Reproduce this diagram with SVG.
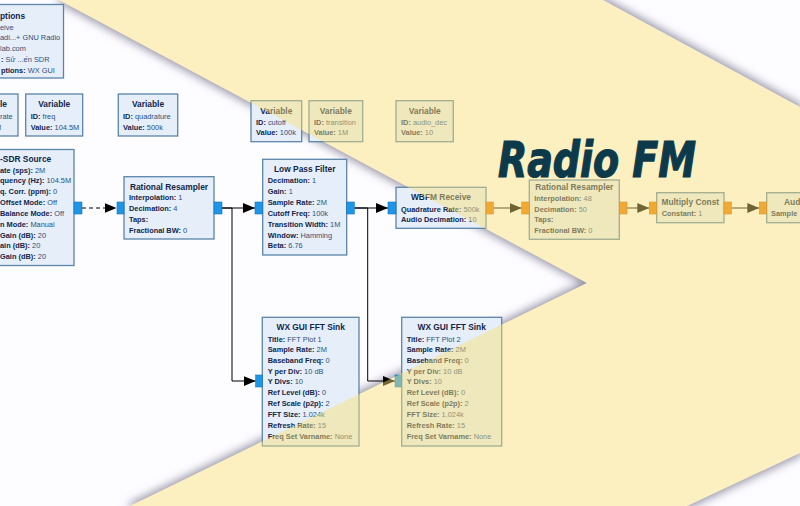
<svg xmlns="http://www.w3.org/2000/svg" width="800" height="506" viewBox="0 0 800 506">
<style>
.blk{fill:#e5eef9;stroke:#5b85a9;stroke-width:1.3}
.t{font-family:"Liberation Sans",Arial,sans-serif;font-weight:bold;font-size:8.4px;fill:#13264a;text-anchor:middle}
.l{font-family:"Liberation Sans",Arial,sans-serif;font-weight:bold;font-size:7.4px;fill:#13264a}
.v{font-weight:normal;fill:#2f517a}
.pb{fill:#1e96e8;stroke:#1873b8;stroke-width:0.6}
.po{fill:#e87c00;stroke:#b86000;stroke-width:0.6}
.c{fill:none;stroke:#000;stroke-width:1}
.d{stroke-dasharray:4 3}
</style>
<defs>
<marker id="ah" markerUnits="userSpaceOnUse" markerWidth="13" markerHeight="11" refX="12" refY="5" orient="auto"><path d="M0,0 L12,5 L0,10 z" fill="#000"/></marker>
<filter id="sh" x="-0.1" y="-0.1" width="1.2" height="1.2" color-interpolation-filters="sRGB">
<feMorphology in="SourceAlpha" operator="dilate" radius="2" result="d"/>
<feGaussianBlur in="d" stdDeviation="4" result="b"/>
<feFlood flood-color="#8e8ca0" flood-opacity="0.9" result="f"/>
<feComposite in="f" in2="b" operator="in" result="s"/>
<feComposite in="s" in2="SourceAlpha" operator="out"/>
</filter>
</defs>
<rect x="0" y="0" width="800" height="506" fill="#fdfcff"/>
<polygon points="59,0 603,0 800,107 800,453 687,506 130,506 587,283" fill="#000" filter="url(#sh)"/>

<g id="connectors">
<path class="c d" d="M82,208 H116.5" marker-end="url(#ah)"/>
<path class="c" d="M222,208 H255" marker-end="url(#ah)"/>
<path class="c" d="M222,208 H232 V381 H255.7" marker-end="url(#ah)"/>
<path class="c" d="M354.3,208 H388" marker-end="url(#ah)"/>
<path class="c" d="M354.3,208 H367.7 V381 H395" marker-end="url(#ah)"/>
<path class="c" d="M493.3,208 H521.7" marker-end="url(#ah)"/>
<path class="c" d="M627,208 H649.3" marker-end="url(#ah)"/>
<path class="c" d="M731.3,208 H759.3" marker-end="url(#ah)"/>
</g>

<g id="options">
<rect class="blk" x="-10" y="4.5" width="73.5" height="73.5"/>
<text class="l" x="0" y="18.5" style="font-size:8.4px">ptions</text>
<text class="l" x="0" y="29.5"><tspan class="v">eive</tspan></text>
<text class="l" x="0" y="40"><tspan class="v">adi...+ GNU Radio</tspan></text>
<text class="l" x="0" y="51"><tspan class="v">lab.com</tspan></text>
<text class="l" x="1" y="62">:<tspan class="v"> Sử ...ến SDR</tspan></text>
<text class="l" x="1" y="72.7">ptions:<tspan class="v"> WX GUI</tspan></text>
</g>

<g id="var_samp_rate">
<rect class="blk" x="-30" y="94" width="48" height="42"/>
<text class="l" x="0" y="107.3" style="font-size:8.4px">le</text>
<text class="l" x="0" y="118.8"><tspan class="v">rate</tspan></text>
<text class="l" x="-5" y="129.6"><tspan class="v">M</tspan></text>
</g>
<g id="var_freq">
<rect class="blk" x="25.7" y="94" width="57" height="42"/>
<text class="t" x="54.2" y="107.3">Variable</text>
<text class="l" x="30.7" y="118.8">ID:<tspan class="v"> freq</tspan></text>
<text class="l" x="30.7" y="129.6">Value:<tspan class="v"> 104.5M</tspan></text>
</g>
<g id="var_quadrature">
<rect class="blk" x="118.3" y="94" width="59.4" height="42"/>
<text class="t" x="148" y="107.3">Variable</text>
<text class="l" x="123" y="118.8">ID:<tspan class="v"> quadrature</tspan></text>
<text class="l" x="123" y="129.6">Value:<tspan class="v"> 500k</tspan></text>
</g>
<g id="var_cutoff">
<rect class="blk" x="251" y="100.7" width="50.7" height="41"/>
<text class="t" x="276.3" y="113.5">Variable</text>
<text class="l" x="256" y="124.5">ID:<tspan class="v"> cutoff</tspan></text>
<text class="l" x="256" y="135">Value:<tspan class="v"> 100k</tspan></text>
</g>
<g id="var_transition">
<rect class="blk" x="309" y="100.7" width="53.7" height="41"/>
<text class="t" x="335.8" y="113.5">Variable</text>
<text class="l" x="314" y="124.5">ID:<tspan class="v"> transition</tspan></text>
<text class="l" x="314" y="135">Value:<tspan class="v"> 1M</tspan></text>
</g>
<g id="var_audio_dec">
<rect class="blk" x="396" y="100.7" width="57.3" height="41"/>
<text class="t" x="424.7" y="113.5">Variable</text>
<text class="l" x="401" y="124.5">ID:<tspan class="v"> audio_dec</tspan></text>
<text class="l" x="401" y="135">Value:<tspan class="v"> 10</tspan></text>
</g>

<g id="rtlsdr_source">
<rect class="blk" x="-10" y="149.5" width="84" height="116"/>
<text class="l" x="0" y="162" style="font-size:8.4px">-SDR Source</text>
<text class="l" x="0" y="172.7">ate (sps):<tspan class="v"> 2M</tspan></text>
<text class="l" x="0" y="183.4">quency (Hz):<tspan class="v"> 104.5M</tspan></text>
<text class="l" x="0" y="194.4">q. Corr. (ppm):<tspan class="v"> 0</tspan></text>
<text class="l" x="0" y="205">Offset Mode:<tspan class="v"> Off</tspan></text>
<text class="l" x="0" y="216">Balance Mode:<tspan class="v"> Off</tspan></text>
<text class="l" x="0" y="227">n Mode:<tspan class="v"> Manual</tspan></text>
<text class="l" x="0" y="237.7">Gain (dB):<tspan class="v"> 20</tspan></text>
<text class="l" x="0" y="248.4">ain (dB):<tspan class="v"> 20</tspan></text>
<text class="l" x="0" y="259.4">Gain (dB):<tspan class="v"> 20</tspan></text>
<rect class="pb" x="74" y="202" width="8" height="12"/>
</g>

<g id="rational_resampler_1">
<rect class="blk" x="124" y="176.7" width="90" height="62.3"/>
<text class="t" x="169" y="189.7">Rational Resampler</text>
<text class="l" x="129" y="200.4">Interpolation:<tspan class="v"> 1</tspan></text>
<text class="l" x="129" y="211">Decimation:<tspan class="v"> 4</tspan></text>
<text class="l" x="129" y="221.7">Taps:</text>
<text class="l" x="129" y="232.7">Fractional BW:<tspan class="v"> 0</tspan></text>
<rect class="pb" x="117" y="202" width="7" height="12"/>
<rect class="pb" x="214" y="202" width="8" height="12"/>
</g>

<g id="low_pass_filter">
<rect class="blk" x="262.7" y="159.3" width="84" height="95.7"/>
<text class="t" x="304.7" y="172.3">Low Pass Filter</text>
<text class="l" x="267.7" y="183.4">Decimation:<tspan class="v"> 1</tspan></text>
<text class="l" x="267.7" y="194">Gain:<tspan class="v"> 1</tspan></text>
<text class="l" x="267.7" y="205">Sample Rate:<tspan class="v"> 2M</tspan></text>
<text class="l" x="267.7" y="216">Cutoff Freq:<tspan class="v"> 100k</tspan></text>
<text class="l" x="267.7" y="227">Transition Width:<tspan class="v"> 1M</tspan></text>
<text class="l" x="267.7" y="237.7">Window:<tspan class="v"> Hamming</tspan></text>
<text class="l" x="267.7" y="248.4">Beta:<tspan class="v"> 6.76</tspan></text>
<rect class="pb" x="255" y="202" width="7.7" height="12"/>
<rect class="pb" x="346.7" y="202" width="7.6" height="12"/>
</g>

<g id="wbfm_receive">
<rect class="blk" x="396" y="187.3" width="90" height="41"/>
<text class="t" x="441" y="199.7">WBFM Receive</text>
<text class="l" x="401" y="211.7">Quadrature Rate:<tspan class="v"> 500k</tspan></text>
<text class="l" x="401" y="222">Audio Decimation:<tspan class="v"> 10</tspan></text>
<rect class="pb" x="388" y="202" width="8" height="12"/>
<rect class="po" x="486" y="202" width="7.3" height="12"/>
</g>

<g id="rational_resampler_2">
<rect class="blk" x="529.3" y="180" width="90" height="59.3"/>
<text class="t" x="574.3" y="190.3">Rational Resampler</text>
<text class="l" x="534.3" y="200.8">Interpolation:<tspan class="v"> 48</tspan></text>
<text class="l" x="534.3" y="211.7">Decimation:<tspan class="v"> 50</tspan></text>
<text class="l" x="534.3" y="222">Taps:</text>
<text class="l" x="534.3" y="232.7">Fractional BW:<tspan class="v"> 0</tspan></text>
<rect class="po" x="521.7" y="202" width="7.6" height="12"/>
<rect class="po" x="619.3" y="202" width="7.7" height="12"/>
</g>

<g id="multiply_const">
<rect class="blk" x="656.7" y="192.7" width="67.3" height="30"/>
<text class="t" x="690.3" y="205.3">Multiply Const</text>
<text class="l" x="661.7" y="216">Constant:<tspan class="v"> 1</tspan></text>
<rect class="po" x="649.3" y="202" width="7.4" height="12"/>
<rect class="po" x="724" y="202" width="7.3" height="12"/>
</g>

<g id="audio_sink">
<rect class="blk" x="766.7" y="192.7" width="50" height="30"/>
<text class="l" x="784" y="205.3" style="font-size:8.4px">Aud</text>
<text class="l" x="771" y="216">Sample</text>
<rect class="po" x="759.3" y="202" width="7.4" height="12"/>
</g>

<g id="fft_sink_1">
<rect class="blk" x="262.3" y="317.3" width="96.7" height="128.7"/>
<text class="t" x="310.7" y="329.7">WX GUI FFT Sink</text>
<text class="l" x="267.7" y="341.7">Title:<tspan class="v"> FFT Plot 1</tspan></text>
<text class="l" x="267.7" y="352">Sample Rate:<tspan class="v"> 2M</tspan></text>
<text class="l" x="267.7" y="363.4">Baseband Freq:<tspan class="v"> 0</tspan></text>
<text class="l" x="267.7" y="373.7">Y per Div:<tspan class="v"> 10 dB</tspan></text>
<text class="l" x="267.7" y="384.4">Y Divs:<tspan class="v"> 10</tspan></text>
<text class="l" x="267.7" y="395.4">Ref Level (dB):<tspan class="v"> 0</tspan></text>
<text class="l" x="267.7" y="406">Ref Scale (p2p):<tspan class="v"> 2</tspan></text>
<text class="l" x="267.7" y="416.7">FFT Size:<tspan class="v"> 1.024k</tspan></text>
<text class="l" x="267.7" y="427.7">Refresh Rate:<tspan class="v"> 15</tspan></text>
<text class="l" x="267.7" y="438.7">Freq Set Varname:<tspan class="v"> None</tspan></text>
<rect class="pb" x="255.7" y="375" width="6.6" height="12"/>
</g>

<g id="fft_sink_2">
<rect class="blk" x="401.7" y="317.3" width="100" height="128.7"/>
<text class="t" x="451.7" y="329.7">WX GUI FFT Sink</text>
<text class="l" x="406.7" y="341.7">Title:<tspan class="v"> FFT Plot 2</tspan></text>
<text class="l" x="406.7" y="352">Sample Rate:<tspan class="v"> 2M</tspan></text>
<text class="l" x="406.7" y="363.4">Baseband Freq:<tspan class="v"> 0</tspan></text>
<text class="l" x="406.7" y="373.7">Y per Div:<tspan class="v"> 10 dB</tspan></text>
<text class="l" x="406.7" y="384.4">Y Divs:<tspan class="v"> 10</tspan></text>
<text class="l" x="406.7" y="395.4">Ref Level (dB):<tspan class="v"> 0</tspan></text>
<text class="l" x="406.7" y="406">Ref Scale (p2p):<tspan class="v"> 2</tspan></text>
<text class="l" x="406.7" y="416.7">FFT Size:<tspan class="v"> 1.024k</tspan></text>
<text class="l" x="406.7" y="427.7">Refresh Rate:<tspan class="v"> 15</tspan></text>
<text class="l" x="406.7" y="438.7">Freq Set Varname:<tspan class="v"> None</tspan></text>
<rect class="pb" x="395" y="375" width="6.7" height="12"/>
</g>

<polygon id="yellow_band" points="59,0 603,0 800,107 800,453 687,506 130,506 587,283" fill="#fbdf73" fill-opacity="0.45"/>
<text id="title" x="498" y="176.5" font-family="DejaVu Sans, sans-serif" font-stretch="condensed" font-weight="bold" font-style="italic" font-size="49" textLength="198" lengthAdjust="spacingAndGlyphs" fill="#0c3a4a" stroke="#0c3a4a" stroke-width="1.2">Radio FM</text>
</svg>
